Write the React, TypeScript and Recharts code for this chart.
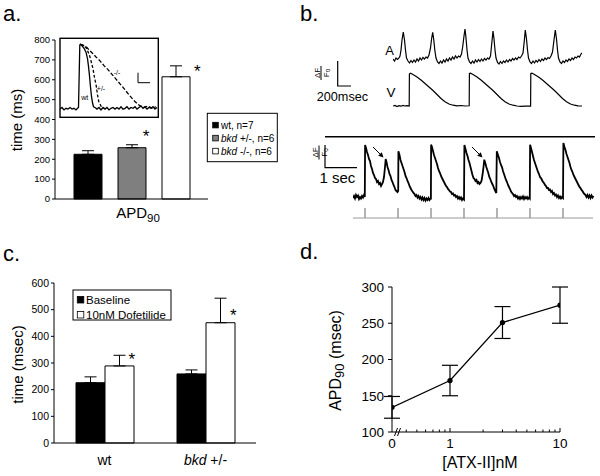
import React from 'react';
import { BarChart, Bar, XAxis, YAxis, ErrorBar, LineChart, Line } from 'recharts';

const FONT = 'Arial, "Liberation Sans", Helvetica, sans-serif';

// ---------- Panel a: APD90 by genotype ----------
const apdLegend = ['wt, n=7', 'bkd +/-, n=6', 'bkd -/-, n=6'];
const apdKeys = ['wt', 'het', 'ko'];
const apdMeans = [225, 258, 615];
const apdErrors = [18, 15, 55];
const apdColors = ['#000000', '#7f7f7f', '#ffffff'];
const apdYTicks = [0, 100, 200, 300, 400, 500, 600, 700, 800];

// inset action potentials (t, amplitude %)
const insetWt: number[][] = [
  [0, 10], [2, 12], [4, 9], [6, 11], [8, 10], [10, 12], [12, 10], [14, 11], [16, 9], [17.5, 11], [18.5, 12],
  [19.3, 60], [19.8, 91], [20.5, 92], [22, 90], [24, 87], [26, 82], [27.5, 74], [28.5, 64], [29.5, 52],
  [30.5, 38], [31.5, 26], [32.5, 18], [33.5, 13], [35, 12], [37, 10], [39, 12], [41, 9], [43, 12], [45, 10],
  [47, 12], [49, 9], [51, 11], [53, 12], [55, 10], [57, 12], [59, 10], [61, 13], [63, 10], [65, 11], [67, 13],
  [69, 10], [71, 12], [73, 11], [75, 13], [77, 10], [79, 12], [81, 14], [83, 11], [85, 13], [87, 10], [89, 12],
  [91, 11], [93, 13], [95, 10], [97, 12],
];
const insetHet: number[][] = [
  [20.5, 92], [23, 91], [25, 89], [27, 86], [30, 76], [33, 61], [34.5, 50], [36.3, 39], [37.5, 28],
  [38.7, 20], [41.3, 13], [44, 11],
];
const insetKo: number[][] = [
  [20.5, 92], [24, 90], [27, 88], [29.7, 84], [33, 80], [36, 76], [40, 71], [44, 65], [48, 60], [52, 54],
  [56, 48], [60, 42], [64.7, 35], [69, 28], [74.7, 20], [78, 16], [81.3, 13], [84, 12], [88, 14], [92, 11], [96, 13],
];

// ---------- Panel b: calcium transients ----------
const atrialTrace: number[][] = [
  [0, 7], [1.5, 5], [3, 8], [4.5, 6.5], [6, 8], [7, 10], [8, 16], [9, 26], [10.3, 34], [11.5, 26], [12.5, 16],
  [13.5, 8], [15, 5], [16.5, 3], [18, 5.5], [19.5, 3.5], [21, 6], [22.5, 4], [24, 7], [25.5, 5], [27, 8],
  [28.5, 6], [30, 8.5], [31.5, 7], [33, 9], [34.5, 8], [36, 11], [37.5, 18], [38.7, 28], [39.7, 33.7],
  [40.8, 26], [41.8, 16], [43, 8], [44.5, 4], [46, 2.5], [47.5, 5], [49, 3], [50.5, 6], [52, 4], [53.5, 7],
  [55, 5], [56.5, 8], [58, 6], [59.5, 9], [61, 7], [62.5, 10], [64, 8], [65.5, 10], [67, 9], [68.5, 12],
  [69.8, 20], [71, 30], [72, 37], [73, 28], [74, 16], [75, 8], [76.5, 4], [78, 2.5], [79.5, 5], [81, 3],
  [82.5, 6], [84, 4], [85.5, 6.5], [87, 4.5], [88.5, 7], [90, 5], [91.5, 7.5], [93, 6], [94.5, 8], [96, 7],
  [97.5, 10], [98.5, 20], [99.3, 28], [100, 35], [101, 27], [102, 16], [103, 8], [104.5, 3.5], [106, 2],
  [107.5, 4.5], [109, 2.5], [110.5, 5], [112, 3.5], [113.5, 6], [115, 4], [116.5, 6.5], [118, 5], [119.5, 7.5],
  [121, 6], [122.5, 8], [124, 6.5], [125.5, 9], [127, 8], [128.5, 10], [130, 13], [131.2, 24], [132.3, 36],
  [133.5, 27], [134.5, 16], [135.5, 8], [137, 4], [138.5, 2.5], [140, 5], [141.5, 3], [143, 5.5], [144.5, 4],
  [146, 6.5], [147.5, 4.5], [149, 7], [150.5, 5.5], [152, 8], [153.5, 6.5], [155, 8.5], [156.5, 7.5], [158, 10],
  [159.5, 14], [161, 26], [162.3, 36], [163.5, 27], [164.5, 16], [165.5, 8], [167, 4], [168.5, 2.5], [170, 5],
  [171.5, 3.5], [173, 6], [174.5, 4.5], [176, 7], [177.5, 5.5], [179, 8], [180.5, 6.5], [182, 9], [183.5, 8],
  [185, 10], [186.5, 9], [188, 12], [189, 13],
];
const ventricularTrace: number[][] = [
  [0, 4], [2, 4.5], [4, 3.5], [6, 4.3], [8, 3.8], [10, 4.5], [12, 4], [14, 4.4], [16.2, 4], [16.4, 36],
  [17.5, 36.8], [20, 35.5], [24, 33], [28, 30], [32, 26.5], [36, 23], [40, 19.5], [44, 15.5], [48, 11.5],
  [52, 8.3], [56, 6], [60, 4.8], [64, 4.2], [68, 4.5], [72, 4], [76.2, 4.2], [76.4, 36.5], [77.5, 36.8],
  [80, 35.5], [84, 33], [88, 30], [92, 26.5], [96, 23], [100, 19.5], [104, 15.5], [108, 11.5], [112, 8.3],
  [116, 6], [120, 4.8], [124, 4], [128, 3.6], [132, 3.8], [135, 4], [137.6, 3.8], [137.8, 36.5], [139, 36.8],
  [141.5, 35.5], [145.5, 33], [149.5, 30], [153.5, 26.5], [157.5, 23], [161.5, 19.5], [165.5, 15.5],
  [169.5, 11.5], [173.5, 8.3], [177.5, 6], [181.5, 4.8], [185, 4.2], [189, 4],
];
const pacedTrace: number[][] = [
  [0, 7], [1, 9], [2, 6.5], [3, 10], [4, 8], [5, 9.5], [6, 6], [7, 8], [8, 6.5], [9, 9], [10, 7.5], [11, 10],
  [11.8, 8], [12.1, 60], [13, 57], [14, 53], [15, 50], [16, 46], [17, 44], [18, 39], [19, 36], [20, 32],
  [21, 30], [22, 27], [23, 26], [24, 23], [25, 24], [26, 21], [27, 22], [28, 19], [29, 21], [30, 23], [31, 28],
  [32, 38], [32.7, 46], [33.5, 43], [34.5, 38], [35.5, 35], [36.5, 31], [37.5, 29], [38.5, 25], [39.5, 23],
  [40.5, 20], [41.5, 18], [42.5, 15], [43.5, 14], [44.5, 13], [45.2, 14],
  [45.4, 53.7], [46.5, 50], [47.5, 45], [48.5, 42], [49.5, 39], [50.5, 36], [51.5, 33], [52.5, 29], [53.5, 27],
  [54.5, 24], [55.5, 22], [56.5, 19], [57.5, 17], [58.5, 15], [59.5, 13.5], [60.5, 12], [61.5, 11], [62.5, 9],
  [63.5, 10], [64.5, 7.5], [65.5, 9], [66.5, 6.5], [67.5, 8], [68.5, 5.5], [69.5, 7.5], [70.5, 5], [71.5, 7],
  [72.5, 4.5], [73.5, 6.5], [74.5, 5], [75.5, 7], [76.5, 5], [77.5, 6.5], [77.9, 5.5],
  [78.1, 60.3], [79, 58], [80, 54], [81, 50], [82, 47], [83, 44], [84, 41], [85, 37], [86, 34], [87, 32],
  [88, 29], [89, 27], [90, 25], [91, 23], [92, 21], [93, 19], [94, 18], [95, 16], [96, 15], [97, 13.5],
  [98, 13], [99, 11], [100, 11.5], [101, 9.5], [102, 10], [103, 8], [104, 9], [105, 6.5], [106, 8], [107, 6],
  [108, 7.5], [109, 5], [110, 6.5], [111, 5.5],
  [111.4, 60], [112.5, 56], [113.5, 52], [114.5, 49], [115.5, 45], [116.5, 42], [117.5, 38], [118.5, 34],
  [119.5, 30], [120.5, 27], [121.5, 26], [122.5, 24], [123.5, 25], [124.5, 22], [125.5, 23], [126.5, 21],
  [127.5, 22], [128.5, 24], [129.5, 30], [130.5, 38], [131.3, 45.3], [132.3, 42], [133.3, 38], [134.3, 35],
  [135.3, 32], [136.3, 28], [137.3, 26], [138.3, 23], [139.3, 21], [140.3, 19], [141.3, 16], [142.3, 14],
  [143.3, 12],
  [143.8, 53.7], [145, 50], [146, 47], [147, 43], [148, 40], [149, 38], [150, 34], [151, 31], [152, 28],
  [153, 25], [154, 23], [155, 20], [156, 18], [157, 16], [158, 13.5], [159, 12], [160, 11], [161, 9], [162, 10],
  [163, 8], [164, 9], [165, 6.5], [166, 8], [167, 6], [168, 8], [169, 6.5], [170, 8.5], [171, 6], [172, 8],
  [173, 6.5], [174, 8], [175, 6], [176, 7.5], [176.8, 6.5],
  [177.1, 60.3], [178, 57], [179, 53], [180, 49], [181, 45], [182, 42], [183, 39], [184, 36], [185, 33],
  [186, 31], [187, 28], [188, 27], [189, 25], [190, 23], [191, 22], [192, 20], [193, 19], [194, 17], [195, 17],
  [196, 15], [197, 15.5], [198, 13], [199, 14], [200, 11], [201, 12], [202, 9.5], [203, 10.5], [204, 8],
  [205, 9.5], [206, 7], [207, 8.5], [208, 6.5], [209, 8], [210, 7],
  [210.4, 62], [211.5, 58], [212.5, 55], [213.5, 51], [214.5, 48], [215.5, 45], [216.5, 42], [217.5, 38],
  [218.5, 35], [219.5, 33], [220.5, 30], [221.5, 28], [222.5, 26], [223.5, 24], [224.5, 22], [225.5, 20],
  [226.5, 18], [227.5, 17], [228.5, 15], [229.5, 14], [230.5, 12], [231.5, 11], [232.5, 10], [233.5, 8],
  [234.5, 10], [235.5, 7.5], [236.5, 9.5], [237.5, 7], [238.5, 9.5], [239.5, 7.5], [240.5, 9],
];
const stimTimes = [12, 45, 78, 111, 144, 177, 210];
const stimEnd = 240;

// ---------- Panel c: dofetilide ----------
const dofGroups = ['wt', 'bkd +/-'];
const dofSeries = ['Baseline', '10nM Dofetilide'];
const baselineMeans = [226, 259];
const baselineErrors = [22, 15];
const dofetilideMeans = [289, 451];
const dofetilideErrors = [40, 92];
const dofColors = ['#000000', '#ffffff'];
const dofYTicks = [0, 100, 200, 300, 400, 500, 600];

// ---------- Panel d: ATX-II dose response ----------
const atxConc = [0, 1, 3, 10];
const atxApd = [134, 171, 251, 275];
const atxErr = [15, 21, 22, 25];
const ZERO_POS = 0.297;
const atxTicks = [ZERO_POS, 0.4, 0.5, 0.6, 0.7, 0.8, 0.9, 1, 2, 3, 4, 5, 6, 7, 8, 9, 10];
const atxYTicks = [100, 150, 200, 250, 300];

// ---------- derived tables ----------
const apdRow: Record<string, any> = { name: 'APD90' };
apdKeys.forEach((k, i) => {
  apdRow[k] = apdMeans[i];
  apdRow[k + 'Err'] = [0, apdErrors[i]];
});
const apdData = [apdRow];

const toPts = (arr: number[][]) => arr.map(([t, v]) => ({ t, v }));

const stimData: { t: number; v: number }[] = [{ t: 0, v: 1 }];
stimTimes.forEach((s) => {
  stimData.push({ t: s, v: 1 }, { t: s, v: 11 }, { t: s, v: 1 });
});
stimData.push({ t: stimEnd, v: 1 });

const dofData = dofGroups.map((g, i) => ({
  name: g,
  base: baselineMeans[i],
  baseErr: [0, baselineErrors[i]],
  dof: dofetilideMeans[i],
  dofErr: [0, dofetilideErrors[i]],
}));

const atxData = atxConc.map((c, i) => ({
  pos: c === 0 ? ZERO_POS : c,
  apd: atxApd[i],
  err: atxErr[i],
}));

const axisStroke = { stroke: '#000', strokeWidth: 1 };

function GenoLabel({ text }: { text: string }) {
  if (text.startsWith('bkd')) {
    return (
      <>
        <tspan fontStyle="italic">bkd</tspan>
        <tspan>{text.slice(3)}</tspan>
      </>
    );
  }
  return <>{text}</>;
}

function GenoTick(props: any) {
  const { x, y, payload } = props;
  return (
    <text x={x} y={y + 22} textAnchor="middle" fontSize={14} fill="#000" fontFamily={FONT}>
      <GenoLabel text={String(payload.value)} />
    </text>
  );
}

function ConcTick(props: any) {
  const { x, y, payload } = props;
  const v = payload.value;
  const label = v === ZERO_POS ? '0' : v === 1 || v === 10 ? String(v) : null;
  return (
    <g>
      {v !== ZERO_POS && (
        <line x1={x} x2={x} y1={y} y2={y - (label ? 4 : 2.5)} stroke="#000" strokeWidth={1} />
      )}
      {label && (
        <text x={x} y={y + 16} textAnchor="middle" fontSize={13.5} fill="#000" fontFamily={FONT}>
          {label}
        </text>
      )}
    </g>
  );
}

function TraceChart({ left, top, width, height, xMax, yMax, series, strokeWidth, color }: any) {
  return (
    <div style={{ position: 'absolute', left, top }}>
      <LineChart width={width} height={height} margin={{ top: 0, right: 0, bottom: 0, left: 0 }}>
        <XAxis type="number" dataKey="t" domain={[0, xMax]} hide allowDataOverflow />
        <YAxis type="number" domain={[0, yMax]} hide allowDataOverflow />
        {series.map((s: any, i: number) => (
          <Line
            key={i}
            data={s.data}
            dataKey="v"
            type="linear"
            stroke={color || '#000'}
            strokeWidth={strokeWidth}
            strokeDasharray={s.dash}
            dot={false}
            activeDot={false}
            isAnimationActive={false}
          />
        ))}
      </LineChart>
    </div>
  );
}

function Star({ cx, cy }: { cx: number; cy: number }) {
  return (
    <text x={cx} y={cy + 9.5} textAnchor="middle" fontSize={17} fill="#000" fontFamily={FONT}>
      *
    </text>
  );
}

function Fraction({ cx, cy, size }: { cx: number; cy: number; size: number }) {
  return (
    <g transform={`translate(${cx},${cy}) rotate(-90)`}>
      <text x={0} y={-1.5} textAnchor="middle" fontSize={size} fill="#000" fontFamily={FONT}>
        ΔF
      </text>
      <line x1={-7} x2={7} y1={0} y2={0} stroke="#000" strokeWidth={1} />
      <text x={0} y={size - 0.5} textAnchor="middle" fontSize={size} fill="#000" fontFamily={FONT}>
        F<tspan fontSize={size * 0.8} dy={1.5}>o</tspan>
      </text>
    </g>
  );
}

export default function App() {
  return (
    <div
      style={{
        position: 'absolute',
        left: 0,
        top: 0,
        width: 600,
        height: 476,
        background: '#fff',
        fontFamily: FONT,
        overflow: 'hidden',
      }}
    >
      {/* Panel a */}
      <div style={{ position: 'absolute', left: 0, top: 0 }}>
        <BarChart
          width={300}
          height={240}
          data={apdData}
          margin={{ top: 40, right: 92, bottom: 40, left: 0 }}
          barGap={16}
          barSize={28}
        >
          <XAxis dataKey="name" height={1} tick={false} tickLine={false} axisLine={axisStroke} />
          <YAxis
            width={55}
            domain={[0, 800]}
            ticks={apdYTicks}
            interval={0}
            tickSize={3}
            tickMargin={2}
            tick={{ fontSize: 9.5, fill: '#000', fontFamily: FONT }}
            axisLine={axisStroke}
            tickLine={axisStroke}
          />
          {apdKeys.map((k, i) => (
            <Bar key={k} dataKey={k} fill={apdColors[i]} stroke="#000" strokeWidth={1} isAnimationActive={false}>
              <ErrorBar dataKey={k + 'Err'} width={6} stroke="#000" strokeWidth={1} direction="y" />
            </Bar>
          ))}
        </BarChart>
      </div>
      <TraceChart
        left={60}
        top={38}
        width={98}
        height={79}
        xMax={98}
        yMax={100}
        strokeWidth={1.3}
        series={[
          { data: toPts(insetWt) },
          { data: toPts(insetHet), dash: '3 2' },
          { data: toPts(insetKo), dash: '4 2' },
        ]}
      />

      {/* Panel b */}
      <TraceChart
        left={393}
        top={26}
        width={189}
        height={40}
        xMax={189}
        yMax={40}
        strokeWidth={1.2}
        series={[{ data: toPts(atrialTrace) }]}
      />
      <TraceChart
        left={393}
        top={68}
        width={189}
        height={42}
        xMax={189}
        yMax={42}
        strokeWidth={1.2}
        series={[{ data: toPts(ventricularTrace) }]}
      />
      <TraceChart
        left={353}
        top={140}
        width={242}
        height={65}
        xMax={242}
        yMax={65}
        strokeWidth={1.8}
        series={[{ data: toPts(pacedTrace) }]}
      />
      <TraceChart
        left={353}
        top={206}
        width={242}
        height={13}
        xMax={242}
        yMax={13}
        strokeWidth={1}
        color="#999"
        series={[{ data: stimData }]}
      />

      {/* Panel c */}
      <div style={{ position: 'absolute', left: 0, top: 240 }}>
        <BarChart
          width={300}
          height={236}
          data={dofData}
          margin={{ top: 43, right: 44, bottom: 0, left: 0 }}
          barGap={0}
          barSize={29}
        >
          <XAxis
            dataKey="name"
            height={33}
            tickSize={0}
            tickMargin={0}
            tickLine={false}
            tick={(p: any) => <GenoTick {...p} />}
            axisLine={axisStroke}
            interval={0}
          />
          <YAxis
            width={54}
            domain={[0, 600]}
            ticks={dofYTicks}
            interval={0}
            tickSize={3}
            tickMargin={2}
            tick={{ fontSize: 10.5, fill: '#000', fontFamily: FONT }}
            axisLine={axisStroke}
            tickLine={axisStroke}
          />
          <Bar dataKey="base" fill={dofColors[0]} stroke="#000" strokeWidth={1} isAnimationActive={false}>
            <ErrorBar dataKey="baseErr" width={6} stroke="#000" strokeWidth={1} direction="y" />
          </Bar>
          <Bar dataKey="dof" fill={dofColors[1]} stroke="#000" strokeWidth={1} isAnimationActive={false}>
            <ErrorBar dataKey="dofErr" width={6} stroke="#000" strokeWidth={1} direction="y" />
          </Bar>
        </BarChart>
      </div>

      {/* Panel d */}
      <div style={{ position: 'absolute', left: 300, top: 240 }}>
        <LineChart width={300} height={236} data={atxData} margin={{ top: 47, right: 40, bottom: 0, left: 0 }}>
          <XAxis
            type="number"
            dataKey="pos"
            scale="log"
            domain={[ZERO_POS, 10]}
            ticks={atxTicks}
            interval={0}
            allowDataOverflow
            height={44}
            tickSize={0}
            tickMargin={0}
            tickLine={false}
            tick={(p: any) => <ConcTick {...p} />}
            axisLine={axisStroke}
          />
          <YAxis
            width={92}
            domain={[100, 300]}
            ticks={atxYTicks}
            interval={0}
            tickSize={4}
            tickMargin={4}
            tick={{ fontSize: 13.5, fill: '#000', fontFamily: FONT }}
            axisLine={axisStroke}
            tickLine={axisStroke}
          />
          <Line
            dataKey="apd"
            type="linear"
            stroke="#000"
            strokeWidth={1.3}
            dot={{ r: 2, fill: '#000', stroke: '#000' }}
            activeDot={false}
            isAnimationActive={false}
          >
            <ErrorBar dataKey="err" width={8} stroke="#000" strokeWidth={1.2} direction="y" />
          </Line>
        </LineChart>
      </div>

      {/* Annotations */}
      <svg
        width={600}
        height={476}
        style={{ position: 'absolute', left: 0, top: 0, pointerEvents: 'none' }}
        fontFamily={FONT}
      >
        {/* panel labels */}
        <text x={3} y={20.5} fontSize={22} fill="#000">a.</text>
        <text x={300} y={20.5} fontSize={22} fill="#000">b.</text>
        <text x={3} y={260.5} fontSize={22} fill="#000">c.</text>
        <text x={300} y={258.5} fontSize={22} fill="#000">d.</text>

        {/* panel a */}
        <text transform="translate(16,120) rotate(-90)" textAnchor="middle" dominantBaseline="central" fontSize={15} fill="#000">
          time (ms)
        </text>
        <text x={138} y={217.5} textAnchor="middle" fontSize={15} fill="#000">
          APD<tspan fontSize={11.5} dy={4}>90</tspan>
        </text>
        <Star cx={146} cy={132.3} />
        <Star cx={197.3} cy={67} />
        <rect x={60} y={38.3} width={98.3} height={79} fill="none" stroke="#000" strokeWidth={1.4} />
        <text x={84.7} y={100} textAnchor="middle" fontSize={7} fill="#000">wt</text>
        <text x={101} y={90.5} textAnchor="middle" fontSize={7} fill="#000">+/-</text>
        <text x={117} y={74.5} textAnchor="middle" fontSize={7} fill="#000">-/-</text>
        <polyline points="138,72.7 138,82.7 150,82.7" fill="none" stroke="#000" strokeWidth={1} />
        <rect x={207.3} y={113.3} width={70} height={48.4} fill="#fff" stroke="#000" strokeWidth={1} />
        {apdLegend.map((name, i) => (
          <g key={name}>
            <rect x={212.7} y={122.3 + i * 13} width={5.6} height={5.6} fill={apdColors[i]} stroke="#000" strokeWidth={0.8} />
            <text x={221} y={128.5 + i * 13} fontSize={10} fill="#000">
              <GenoLabel text={name} />
            </text>
          </g>
        ))}

        {/* panel b */}
        <text x={389.5} y={54.5} textAnchor="middle" fontSize={13} fill="#000">A</text>
        <text x={391} y={96.5} textAnchor="middle" fontSize={13.5} fill="#000">V</text>
        <Fraction cx={321} cy={73} size={8} />
        <polyline points="337.7,61 337.7,86 351,86" fill="none" stroke="#000" strokeWidth={1.2} />
        <text x={316.7} y={101} fontSize={12.7} fill="#000">200msec</text>
        <line x1={325} x2={595} y1={136.7} y2={136.7} stroke="#000" strokeWidth={1.5} />
        <Fraction cx={319} cy={152.5} size={8} />
        <polyline points="325,145 325,167.7 357,167.7" fill="none" stroke="#000" strokeWidth={1.2} />
        <text x={319.5} y={183.3} fontSize={15} fill="#000">1 sec</text>
        <line x1={373} y1={147} x2={380} y2={154} stroke="#000" strokeWidth={1} />
        <polygon points="383.5,157.5 378.2,155.8 381.8,152.2" fill="#000" />
        <line x1={472} y1={147} x2={479} y2={154} stroke="#000" strokeWidth={1} />
        <polygon points="482.5,157.5 477.2,155.8 480.8,152.2" fill="#000" />

        {/* panel c */}
        <text transform="translate(17.5,364.5) rotate(-90)" textAnchor="middle" dominantBaseline="central" fontSize={15} fill="#000">
          time (msec)
        </text>
        <Star cx={131.7} cy={355} />
        <Star cx={233.3} cy={311.7} />
        <rect x={73} y={290} width={98} height={30} fill="#fff" stroke="#000" strokeWidth={1} />
        {dofSeries.map((name, i) => (
          <g key={name}>
            <rect x={77.3} y={296.5 + i * 15} width={6.5} height={6.5} fill={dofColors[i]} stroke="#000" strokeWidth={0.8} />
            <text x={86} y={304 + i * 15} fontSize={11.5} fill="#000">{name}</text>
          </g>
        ))}

        {/* panel d */}
        <text transform="translate(335,360.5) rotate(-90)" textAnchor="middle" dominantBaseline="central" fontSize={16} fill="#000">
          APD<tspan fontSize={13} dy={4}>90</tspan><tspan dy={-4}> (msec)</tspan>
        </text>
        <text x={480} y={467.5} textAnchor="middle" fontSize={16} fill="#000">[ATX-II]nM</text>
        <line x1={394.5} y1={436} x2={397.5} y2={428} stroke="#000" strokeWidth={1} />
        <line x1={397.5} y1={436} x2={400.5} y2={428} stroke="#000" strokeWidth={1} />
      </svg>
    </div>
  );
}
